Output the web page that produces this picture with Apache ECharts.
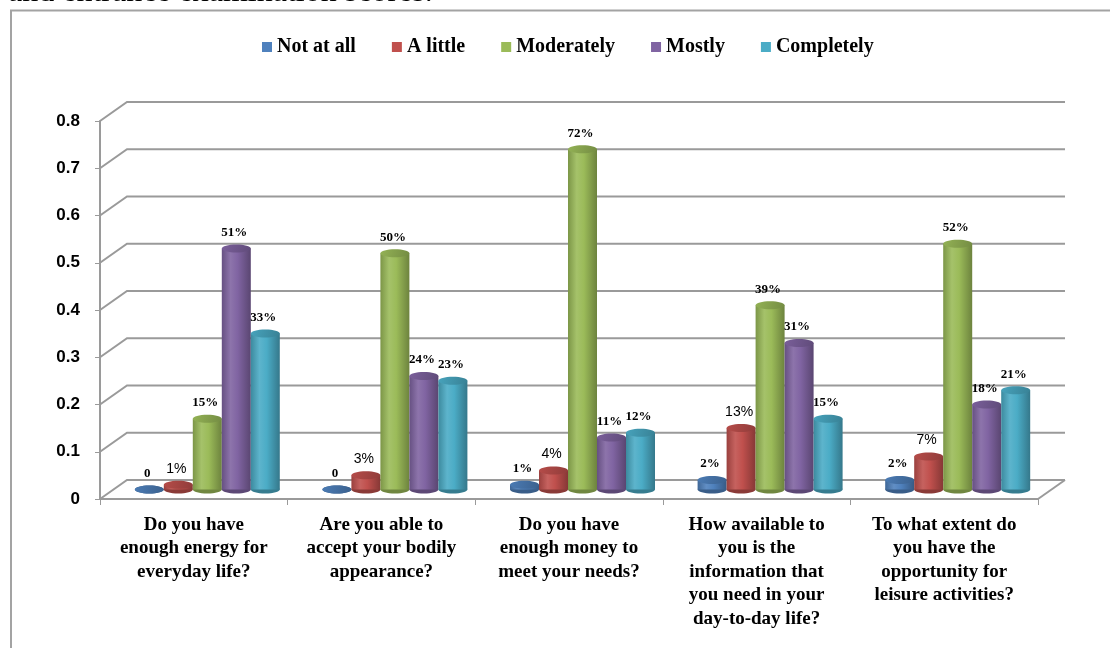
<!DOCTYPE html>
<html>
<head>
<meta charset="utf-8">
<script src="https://cdn.jsdelivr.net/npm/echarts@6/dist/echarts.min.js"></script>
<style>
  html, body { margin: 0; padding: 0; background: #ffffff; }
  #chart { width: 1110px; height: 648px; }
</style>
</head>
<body>
<div id="chart"></div>
<script>
// Survey questions (category axis)
const categories = [
  'Do you have\nenough energy for\neveryday life?',
  'Are you able to\naccept your bodily\nappearance?',
  'Do you have\nenough money to\nmeet your needs?',
  'How available to\nyou is the\ninformation that\nyou need in your\nday-to-day life?',
  'To what extent do\nyou have the\nopportunity for\nleisure activities?'
];

// Answer shares per question
const seriesNames = ['Not at all', 'A little', 'Moderately', 'Mostly', 'Completely'];
const notAtAll   = [0,    0,    0.01, 0.02, 0.02];
const aLittle    = [0.01, 0.03, 0.04, 0.13, 0.07];
const moderately = [0.15, 0.50, 0.72, 0.39, 0.52];
const mostly     = [0.51, 0.24, 0.11, 0.31, 0.18];
const completely = [0.33, 0.23, 0.12, 0.15, 0.21];

// Value axis ticks
const yTicks = [0, 0.1, 0.2, 0.3, 0.4, 0.5, 0.6, 0.7, 0.8];

const seriesValues = [notAtAll, aLittle, moderately, mostly, completely];
const colors = ['#4F81BD', '#C0504D', '#9BBB59', '#8064A2', '#4BACC6'];

// Pseudo-3D depth of the plot box
const DEPTH_X = 27;
const DEPTH_Y = -19;
const BAR_W = 29;
const RY = 4;
const GRID_COLOR = '#9a9a9a';
const SERIF = '"Liberation Serif", "Times New Roman", serif';
const SANS = '"Liberation Sans", Arial, sans-serif';

function shade(hex, f) {
  const n = parseInt(hex.slice(1), 16);
  let r = (n >> 16) & 255, g = (n >> 8) & 255, b = n & 255;
  const adj = c => f >= 1 ? Math.round(c + (255 - c) * (f - 1)) : Math.round(c * f);
  r = adj(r); g = adj(g); b = adj(b);
  return 'rgb(' + r + ',' + g + ',' + b + ')';
}

function formatShare(v) {
  return v === 0 ? '0' : Math.round(v * 100) + '%';
}

// Back wall, side wall and floor lines of the box
function wallRenderer(params, api) {
  const cs = params.coordSys;
  const v = api.value(1);
  const y = api.coord([0, v])[1];
  const left = cs.x, right = cs.x + cs.width;
  const style = { stroke: GRID_COLOR, lineWidth: 2, fill: null };
  const children = [{
    type: 'polyline',
    shape: { points: [[left, y], [left + DEPTH_X, y + DEPTH_Y], [right + DEPTH_X, y + DEPTH_Y]] },
    style: style
  }];
  if (v === 0) {
    children.push({
      type: 'line',
      shape: { x1: right, y1: y, x2: right + DEPTH_X, y2: y + DEPTH_Y },
      style: style
    });
  }
  return { type: 'group', children: children };
}

// Cylinder bars standing in the middle of the box depth
function cylinderRenderer(k, color) {
  return function (params, api) {
    const cat = api.value(0);
    const v = api.value(1);
    const top = api.coord([cat, v]);
    const base = api.coord([cat, 0]);
    const cx = top[0] + DEPTH_X / 2 + (k - 2) * BAR_W;
    const yt = top[1] + DEPTH_Y / 2;
    const yb = base[1] + DEPTH_Y / 2;
    const rx = BAR_W / 2;
    const body = new echarts.graphic.LinearGradient(0, 0, 1, 0, [
      { offset: 0, color: shade(color, 0.8) },
      { offset: 0.3, color: shade(color, 1.1) },
      { offset: 0.55, color: color },
      { offset: 1, color: shade(color, 0.7) }
    ]);
    const cap = new echarts.graphic.LinearGradient(0, 0, 1, 1, [
      { offset: 0, color: shade(color, 0.95) },
      { offset: 1, color: shade(color, 0.75) }
    ]);
    const isSans = k === 1;
    return {
      type: 'group',
      children: [
        { type: 'ellipse', shape: { cx: cx, cy: yb, rx: rx, ry: RY }, style: { fill: shade(color, 0.72) } },
        { type: 'rect', shape: { x: cx - rx, y: yt, width: 2 * rx, height: Math.max(0, yb - yt) }, style: { fill: body } },
        { type: 'ellipse', shape: { cx: cx, cy: yt, rx: rx, ry: RY }, style: { fill: cap } },
        {
          type: 'text',
          z2: 10,
          style: {
            text: formatShare(v),
            x: cx - 2,
            y: yt - 16,
            align: 'center',
            verticalAlign: 'middle',
            fill: '#000',
            font: isSans ? ('normal 14px ' + SANS) : ('bold 13px ' + SERIF)
          }
        }
      ]
    };
  };
}

const chart = echarts.init(document.getElementById('chart'), null, { renderer: 'canvas' });

const series = [{
  name: 'walls',
  type: 'custom',
  silent: true,
  z: 1,
  renderItem: wallRenderer,
  data: yTicks.map(v => [0, v])
}];
seriesNames.forEach((name, k) => {
  series.push({
    name: name,
    type: 'custom',
    silent: true,
    z: 3,
    itemStyle: { color: colors[k] },
    renderItem: cylinderRenderer(k, colors[k]),
    encode: { x: 0, y: 1 },
    data: seriesValues[k].map((v, i) => [i, v])
  });
});

chart.setOption({
  animation: false,
  backgroundColor: '#ffffff',
  color: colors,
  graphic: [
    {
      type: 'rect',
      shape: { x: 11, y: 10.5, width: 1200, height: 700 },
      style: { fill: null, stroke: '#a3a3a3', lineWidth: 2 },
      silent: true
    },
    {
      type: 'text',
      left: 8,
      style: {
        text: 'and entrance examination scores.',
        x: 0,
        y: -7.3,
        verticalAlign: 'middle',
        fill: '#000',
        font: 'normal 32px ' + SERIF
      },
      silent: true
    }
  ],
  legend: {
    data: seriesNames,
    icon: 'rect',
    itemWidth: 10,
    itemHeight: 10,
    itemGap: 36,
    left: 257,
    top: 32,
    textStyle: { fontFamily: SERIF, fontWeight: 'bold', fontSize: 20, color: '#000' }
  },
  grid: { left: 100, right: 72, top: 121, bottom: 149, containLabel: false },
  xAxis: {
    type: 'category',
    data: categories,
    boundaryGap: true,
    axisLine: { show: true, lineStyle: { color: GRID_COLOR, width: 2 } },
    axisTick: { show: true, length: 6, alignWithLabel: false, lineStyle: { color: GRID_COLOR, width: 1 } },
    axisLabel: {
      interval: 0,
      margin: 14,
      color: '#000',
      fontFamily: SERIF,
      fontWeight: 'bold',
      fontSize: 19,
      lineHeight: 23.5
    },
    splitLine: { show: false }
  },
  yAxis: {
    type: 'value',
    min: 0,
    max: 0.8,
    interval: 0.1,
    axisLine: { show: true, lineStyle: { color: GRID_COLOR, width: 2 } },
    axisTick: { show: true, length: 5, lineStyle: { color: GRID_COLOR, width: 1 } },
    axisLabel: {
      margin: 20,
      color: '#000',
      fontFamily: SANS,
      fontWeight: 'bold',
      fontSize: 17,
      formatter: v => (v === 0 ? '0' : v.toFixed(1))
    },
    splitLine: { show: false }
  },
  series: series
});
</script>
</body>
</html>
